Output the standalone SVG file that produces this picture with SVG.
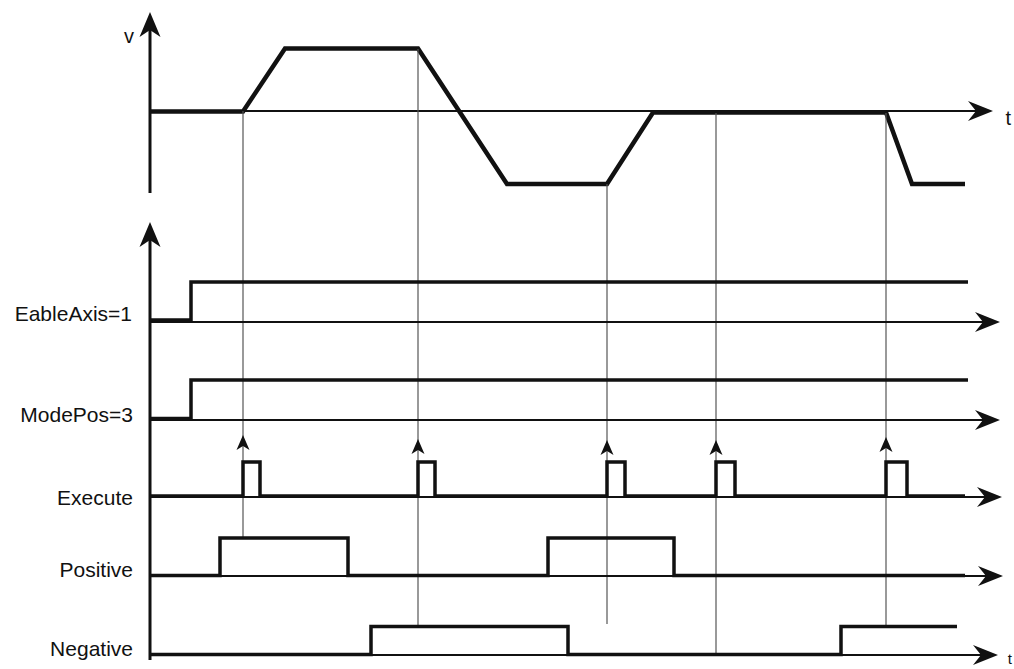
<svg xmlns="http://www.w3.org/2000/svg" width="1014" height="669" viewBox="0 0 1014 669">
<style>
.lbl{font-family:"Liberation Sans",Arial,sans-serif;font-size:21px;fill:#111;text-anchor:end}
.ax{stroke:#111;stroke-width:2;fill:none}
.vax{stroke:#111;stroke-width:3;fill:none}
.sig{stroke:#111;stroke-width:3.5;fill:none;stroke-linejoin:miter}
.vel{stroke:#111;stroke-width:4.5;fill:none;stroke-linejoin:miter}
.guide{stroke:#555;stroke-width:1.2;fill:none}
.ah{fill:#111}
</style>
<defs>
<path id="arrR" d="M0,0 L-25,-10 L-17,0 L-25,10 Z"/>
<path id="arrU" d="M0,0 L-10.5,25 L0,18 L10.5,25 Z"/>
<path id="arrS" d="M0,0 L-6.5,15 L0,11 L6.5,15 Z"/>
</defs>
<rect width="1014" height="669" fill="#fff"/>

<g id="velocity-chart">
<line class="vax" x1="150" y1="193" x2="150" y2="25"/>
<use href="#arrU" class="ah" x="150" y="12"/>
<line class="ax" x1="150" y1="111" x2="980" y2="111"/>
<use href="#arrR" class="ah" x="993" y="111"/>
<text class="lbl" x="134" y="43" style="font-size:20px">v</text>
<text class="lbl" x="1011" y="125" style="font-size:20px">t</text>
<path class="vel" d="M150,111.5 H243 L285,48.5 H418 L507,184 H607 L653,112.5 H886 L912,184 H965"/>
</g>

<g id="signal-axis">
<line class="vax" x1="150" y1="660" x2="150" y2="235"/>
<use href="#arrU" class="ah" x="150" y="222"/>
</g>

<g id="connectors">
<line class="guide" x1="243" y1="111" x2="243" y2="538"/>
<use href="#arrS" class="ah" x="243" y="435"/>
<line class="guide" x1="418" y1="49" x2="418" y2="626"/>
<use href="#arrS" class="ah" x="418" y="439"/>
<line class="guide" x1="607" y1="184" x2="607" y2="624"/>
<use href="#arrS" class="ah" x="607" y="440"/>
<line class="guide" x1="716" y1="113" x2="716" y2="655"/>
<use href="#arrS" class="ah" x="716" y="440"/>
<line class="guide" x1="886" y1="113" x2="886" y2="626"/>
<use href="#arrS" class="ah" x="886" y="437"/>
</g>

<g id="enable-axis">
<text class="lbl" x="132" y="321">EableAxis=1</text>
<line class="ax" x1="150" y1="322" x2="988" y2="322"/>
<use href="#arrR" class="ah" x="1000" y="322"/>
<path class="sig" d="M150,320 H191 V282 H968"/>
</g>

<g id="mode-pos">
<text class="lbl" x="133" y="422">ModePos=3</text>
<line class="ax" x1="150" y1="420" x2="988" y2="420"/>
<use href="#arrR" class="ah" x="1000" y="420"/>
<path class="sig" d="M150,418.5 H191 V380 H968"/>
</g>

<g id="execute">
<text class="lbl" x="133" y="505">Execute</text>
<line class="ax" x1="150" y1="497" x2="990" y2="497"/>
<use href="#arrR" class="ah" x="1002" y="497"/>
<path class="sig" d="M150,496 H243 V462 H260 V496 H418 V462 H435 V496 H607 V462 H625 V496 H716 V462 H735 V496 H886 V462 H907 V496 H965"/>
</g>

<g id="positive">
<text class="lbl" x="133" y="577">Positive</text>
<line class="ax" x1="150" y1="576" x2="991" y2="576"/>
<use href="#arrR" class="ah" x="1003" y="576"/>
<path class="sig" d="M150,575.5 H220 V538 H348 V575.5 H548 V538 H674 V575.5 H965"/>
</g>

<g id="negative">
<text class="lbl" x="133" y="656">Negative</text>
<line class="ax" x1="150" y1="655" x2="986" y2="655"/>
<use href="#arrR" class="ah" x="998" y="655"/>
<text class="lbl" x="1012" y="664" style="font-size:15px">t</text>
<path class="sig" d="M150,654.5 H371 V626.5 H568 V654.5 H841 V626.5 H957"/>
</g>
</svg>
